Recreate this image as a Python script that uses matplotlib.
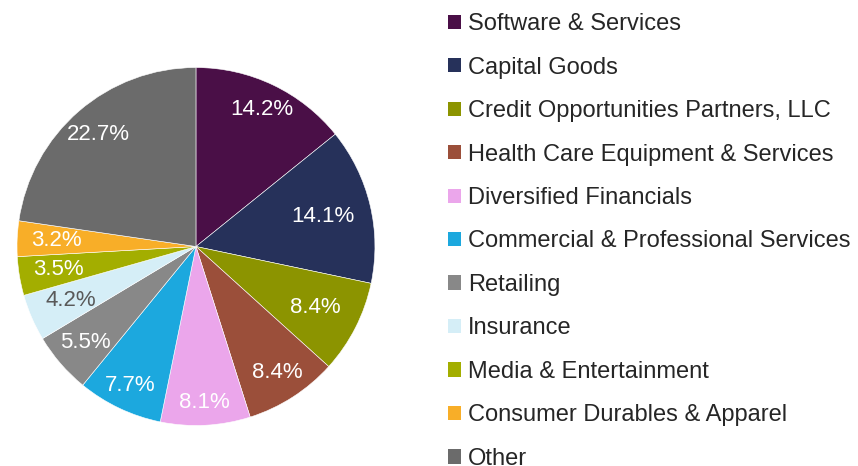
import numpy as np
import matplotlib.pyplot as plt
from matplotlib.patches import Patch

plt.rcParams["font.family"] = ["Liberation Sans", "DejaVu Sans"]

sectors = [
    "Software & Services",
    "Capital Goods",
    "Credit Opportunities Partners, LLC",
    "Health Care Equipment & Services",
    "Diversified Financials",
    "Commercial & Professional Services",
    "Retailing",
    "Insurance",
    "Media & Entertainment",
    "Consumer Durables & Apparel",
    "Other",
]
shares = [14.2, 14.1, 8.4, 8.4, 8.1, 7.7, 5.5, 4.2, 3.5, 3.2, 22.7]
colors = [
    "#4a0f47", "#26315a", "#8c9400", "#9b4f3a", "#eba6eb", "#1ca8de",
    "#888888", "#d5eef7", "#a3ae00", "#f8ae28", "#6b6b6b",
]
label_colors = ["white"] * len(shares)
label_colors[7] = "#595959"
# radial spot of each % label (fraction of radius), as the labels sit in the original
label_dist = [0.85, 0.73, 0.75, 0.84, 0.87, 0.86, 0.82, 0.76, 0.78, 0.78, 0.83]

fig = plt.figure(figsize=(8.58, 4.66), dpi=100)
ax = fig.add_axes([0.0198, 0.0869, 0.4172, 0.7682])

wedges, _ = ax.pie(
    shares,
    colors=colors,
    startangle=90,
    counterclock=False,
    radius=1,
    wedgeprops=dict(edgecolor="white", linewidth=0.4),
)
for w, val, c, d in zip(wedges, shares, label_colors, label_dist):
    ang = np.deg2rad((w.theta1 + w.theta2) / 2)
    ax.text(d * np.cos(ang), d * np.sin(ang), f"{val:.1f}%",
            ha="center", va="center", fontsize=16, color=c)
ax.set_xlim(-1, 1)
ax.set_ylim(-1, 1)
ax.set_aspect("equal")
ax.axis("off")

handles = [Patch(facecolor=c, edgecolor="none") for c in colors]
fig.legend(
    handles, sectors,
    loc="upper left",
    bbox_to_anchor=(0.522, 0.972),
    frameon=False,
    fontsize=17,
    handlelength=0.55,
    handleheight=0.55,
    handletextpad=0.3,
    labelspacing=0.91,
    borderaxespad=0,
    borderpad=0,
    labelcolor="#262626",
)

fig.savefig("out.png", dpi=100)
